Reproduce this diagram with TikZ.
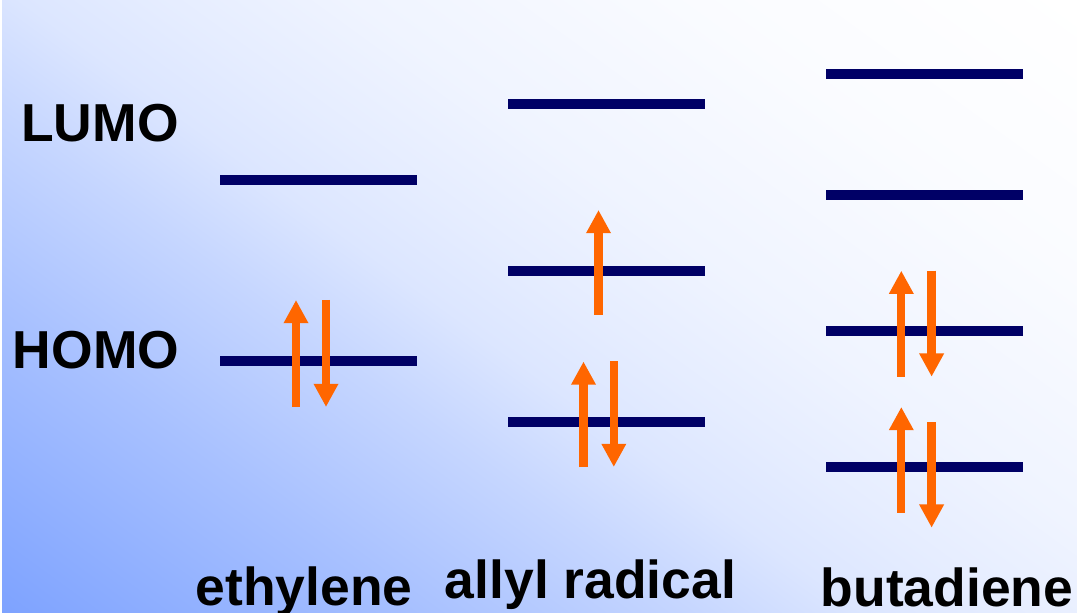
\documentclass[tikz,border=0pt]{standalone}
\usepackage{fontspec}
\setmainfont{Liberation Sans}
\usepackage{tikz}
\usetikzlibrary{arrows.meta}

\definecolor{levelblue}{RGB}{0,0,102}
\definecolor{spinorange}{RGB}{255,102,0}
\definecolor{bgblue}{RGB}{125,162,255}
\pgfdeclarehorizontalshading{bgaxis}{100bp}{color(0bp)=(bgblue); color(25bp)=(bgblue); color(36bp)=(bgblue!67!white); color(43bp)=(bgblue!44!white); color(47.5bp)=(bgblue!27!white); color(51bp)=(bgblue!20!white); color(56bp)=(bgblue!12!white); color(65bp)=(bgblue!4!white); color(75bp)=(white); color(100bp)=(white)}
\tikzset{
    level/.style={line width=2.7pt, levelblue},
    spin/.style={line width=2.35pt, spinorange, -{Triangle[width=6.6pt,length=6.6pt]}},
    orbname/.style={font=\fontsize{15.2}{18}\selectfont\bfseries, anchor=base},
    molname/.style={font=\fontsize{15.2}{18}\selectfont\bfseries, anchor=base}
}

\begin{document}
\begin{tikzpicture}[x=0.01cm, y=-0.01cm]
    \useasboundingbox (0,0) rectangle (1077,613);
    % background
    \begin{scope}
        \clip (0,0) rectangle (1077,613);
        \begin{scope}[transform canvas={shift={(0cm,-6.13cm)}, rotate=54}, y=0.01cm]
            \shade[shading=bgaxis] (0,-900) rectangle (1129,400);
        \end{scope}
    \end{scope}
    \fill[white] (0,0) rectangle (2,613);

    \node[orbname] (lumo) at (100,142) {LUMO};
    \node[orbname] (homo) at (96,369) {HOMO};

    % ethylene
    \draw[level] (220,180) -- (417,180);
    \draw[level] (220,361) -- (417,361);
    \draw[spin] (296,407) -- (296,300);
    \draw[spin] (326,300) -- (326,407);
    \node[molname] (ethylene) at (304,605) {ethylene};

    % allyl radical
    \draw[level] (508,104) -- (705,104);
    \draw[level] (508,271) -- (705,271);
    \draw[level] (508,422) -- (705,422);
    \draw[spin] (598.5,315) -- (598.5,210);
    \draw[spin] (583.5,467) -- (583.5,361.5);
    \draw[spin] (613.8,361.5) -- (613.8,467);
    \node[molname] (allyl) at (590.5,598) {allyl radical};

    % butadiene
    \draw[level] (826,74) -- (1022.5,74);
    \draw[level] (826,195) -- (1022.5,195);
    \draw[level] (826,331) -- (1022.5,331);
    \draw[level] (826,467) -- (1022.5,467);
    \draw[spin] (901.3,376.7) -- (901.3,270.7);
    \draw[spin] (931.6,270.7) -- (931.6,376.7);
    \draw[spin] (901.3,512.7) -- (901.3,407);
    \draw[spin] (931.6,422) -- (931.6,527.7);
    \node[molname] (butadiene) at (947,606) {butadiene};
\end{tikzpicture}
\end{document}
